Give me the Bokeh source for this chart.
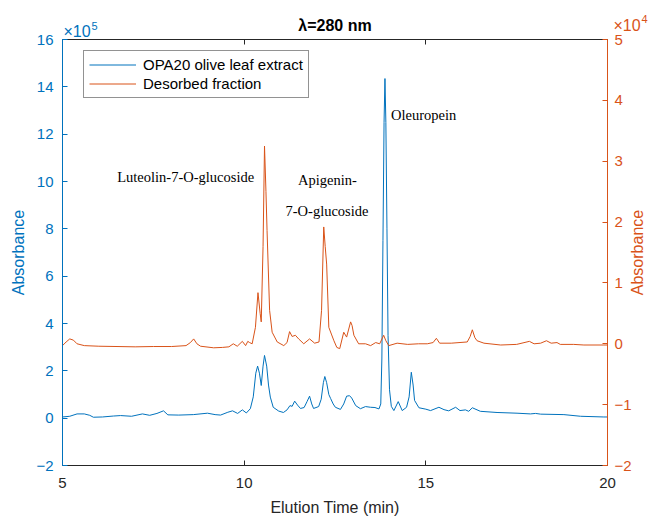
import math
from bokeh.plotting import figure
from bokeh.models import Range1d, LinearAxis, FixedTicker, Label, Legend, LegendItem
from bokeh.embed import file_html
from bokeh.resources import INLINE

# ---- data ----
# OPA20 olive leaf extract, absorbance in units of 1e5
blue_t = [5.0, 5.2, 5.4, 5.6, 5.75, 5.85, 6.1, 6.4, 6.6, 6.9, 7.2, 7.4, 7.6, 7.78, 7.9,
          8.2, 8.6, 8.99, 9.2, 9.35, 9.55, 9.68, 9.82, 9.95, 10.06, 10.17, 10.25, 10.32,
          10.37, 10.42, 10.47, 10.52, 10.56, 10.62, 10.67, 10.72, 10.8, 10.95, 11.08,
          11.18, 11.26, 11.32, 11.39, 11.47, 11.55, 11.65, 11.73, 11.8, 11.86, 11.91,
          12.05, 12.12, 12.18, 12.22, 12.27, 12.33, 12.38, 12.45, 12.51, 12.65, 12.74,
          12.82, 12.9, 12.96, 13.07, 13.2, 13.34, 13.48, 13.6, 13.71, 13.76, 13.79,
          13.82, 13.85, 13.875, 13.9, 13.93, 13.96, 14.0, 14.05, 14.12, 14.24, 14.35,
          14.47, 14.54, 14.6, 14.65, 14.69, 14.81, 15.0, 15.13, 15.36, 15.5, 15.63,
          15.82, 15.94, 16.09, 16.18, 16.28, 16.5, 16.96, 17.51, 17.88, 18.02, 18.16,
          18.8, 19.26, 19.9, 20.0]
blue_v = [0.05, 0.08, 0.18, 0.18, 0.12, 0.04, 0.05, 0.09, 0.11, 0.08, 0.18, 0.12, 0.2, 0.31, 0.14,
          0.13, 0.15, 0.21, 0.15, 0.13, 0.25, 0.31, 0.2, 0.35, 0.22, 0.4, 0.9, 1.9,
          2.2, 1.9, 1.38, 2.2, 2.65, 2.2, 1.4, 0.89, 0.46, 0.3, 0.24,
          0.35, 0.53, 0.5, 0.72, 0.55, 0.41, 0.45, 0.7, 0.93, 0.6, 0.41,
          0.49, 0.8, 1.5, 1.76, 1.5, 1.0, 0.83, 0.6, 0.46, 0.37, 0.6,
          0.93, 0.95, 0.85, 0.53, 0.4, 0.49, 0.46, 0.45, 0.39, 0.6, 2.5,
          7.5, 12.5, 14.35, 12.5, 8.0, 3.5, 1.2, 0.5, 0.32, 0.7, 0.32,
          0.46, 0.9, 1.94, 1.4, 0.75, 0.44, 0.38, 0.32, 0.46, 0.36, 0.31,
          0.46, 0.32, 0.35, 0.29, 0.44, 0.29, 0.24, 0.21, 0.18, 0.2, 0.17,
          0.15, 0.08, 0.05, 0.05]

# Desorbed fraction, absorbance in units of 1e4
orange_t = [5.0, 5.1, 5.2, 5.3, 5.4, 5.6, 6.0, 6.5, 7.0, 7.5, 8.0, 8.4, 8.52, 8.61, 8.7,
            8.8, 9.16, 9.4, 9.58, 9.7, 9.81, 9.95, 10.04, 10.1, 10.15, 10.22, 10.31,
            10.38, 10.44, 10.47, 10.52, 10.56, 10.6, 10.63, 10.7, 10.77, 10.91, 11.09,
            11.18, 11.25, 11.32, 11.41, 11.5, 11.64, 11.8, 11.94, 12.06, 12.13, 12.19,
            12.23, 12.27, 12.33, 12.4, 12.47, 12.55, 12.63, 12.74, 12.82, 12.93, 12.97,
            13.02, 13.15, 13.34, 13.48, 13.62, 13.73, 13.84, 13.9, 13.98, 14.21, 14.5,
            14.8, 15.04, 15.2, 15.29, 15.38, 15.7, 16.14, 16.22, 16.28, 16.35, 16.41,
            16.6, 17.06, 17.5, 17.85, 17.98, 18.16, 18.32, 18.45, 18.61, 18.7, 19.07,
            19.35, 19.9, 20.0]
orange_v = [-0.03, 0.03, 0.08, 0.06, 0.0, -0.03, -0.04, -0.045, -0.05, -0.045, -0.045, -0.03, 0.02, 0.08, 0.0,
            -0.04, -0.066, -0.06, -0.05, 0.0, -0.04, 0.04, -0.03, 0.04, 0.02, 0.0, 0.27,
            0.84, 0.5, 0.36, 1.6, 3.25, 2.5, 1.86, 0.55, 0.19, 0.03, -0.03,
            0.02, 0.2, 0.12, 0.14, 0.08, 0.0, 0.08, 0.01, 0.03, 0.55, 1.92,
            1.6, 1.31, 0.27, 0.16, 0.05, -0.06, -0.08, 0.19, 0.11, 0.36, 0.3,
            0.14, 0.0, 0.0, -0.03, 0.02, 0.0, 0.14, 0.05, -0.03, 0.01, -0.01,
            0.0, 0.0, 0.02, 0.09, 0.01, 0.01, 0.03, 0.12, 0.23, 0.1, 0.05,
            0.01, -0.02, -0.01, 0.04, 0.0, 0.01, 0.05, 0.01, 0.02, -0.01, -0.01,
            -0.02, -0.02, -0.02]

left_ticks = [-2, 0, 2, 4, 6, 8, 10, 12, 14, 16]
right_ticks = [-2, -1, 0, 1, 2, 3, 4, 5]
x_ticks = [5, 10, 15, 20]

ann_text = ["Luteolin-7-O-glucoside", "Apigenin-", "7-O-glucoside", "Oleuropein"]
ann_x = [8.39, 12.29, 12.28, 14.94]
ann_y = [10.17, 10.08, 8.74, 12.79]

title_text = "\u03bb=280 nm"
x_label = "Elution Time (min)"
y_label = "Absorbance"
left_exp = "5"
right_exp = "4"

BLUE = "#0072BD"
ORANGE = "#D95319"
DARK = "#262626"
FONT = "Liberation Sans"

# ---- layout: the frame fills the whole canvas; the axes box sits inside it ----
W, H = 648, 516
BOX_L, BOX_R, BOX_T, BOX_B = 62, 607, 39, 465
X0, X1 = x_ticks[0], x_ticks[-1]
L0, L1 = left_ticks[0], left_ticks[-1]
R0, R1 = right_ticks[0], right_ticks[-1]
sx = (BOX_R - BOX_L) / (X1 - X0)
sl = (BOX_B - BOX_T) / (L1 - L0)
sr = (BOX_B - BOX_T) / (R1 - R0)

p = figure(width=W, height=H, output_backend="svg", toolbar_location=None, title=None,
           x_range=Range1d(X0 - BOX_L / sx, X1 + (W - BOX_R) / sx),
           y_range=Range1d(L0 - (H - BOX_B) / sl, L1 + BOX_T / sl),
           min_border=0)
p.extra_y_ranges = {"right": Range1d(R0 - (H - BOX_B) / sr, R1 + BOX_T / sr)}
p.background_fill_color = "white"
p.border_fill_color = "white"
p.grid.visible = False
p.outline_line_color = None

r1 = p.line(blue_t, blue_v, line_color=BLUE, line_width=1)
r2 = p.line(orange_t, orange_v, line_color=ORANGE, line_width=1, y_range_name="right")

def style(ax, color, ticks):
    ax.ticker = FixedTicker(ticks=ticks)
    ax.axis_line_color = color
    ax.major_tick_line_color = color
    ax.major_label_text_color = color
    ax.minor_tick_line_color = None
    ax.major_tick_in = 5
    ax.major_tick_out = 0
    ax.major_label_text_font = FONT
    ax.major_label_text_font_size = "15px"

yl = p.yaxis[0]
style(yl, BLUE, left_ticks)
yl.bounds = (L0, L1)
yl.fixed_location = X0
yl.major_label_standoff = 9

yr = LinearAxis(y_range_name="right")
style(yr, ORANGE, right_ticks)
yr.bounds = (R0, R1)
yr.fixed_location = X1
yr.major_label_standoff = 7
p.add_layout(yr, "right")

xb = p.xaxis[0]
style(xb, DARK, x_ticks)
xb.bounds = (X0, X1)
xb.fixed_location = L0
xb.major_label_standoff = 12

xt = LinearAxis()
style(xt, DARK, x_ticks)
xt.bounds = (X0, X1)
xt.fixed_location = L1
xt.major_label_overrides = {t: "" for t in x_ticks}
p.add_layout(xt, "above")

# axis titles
p.add_layout(Label(x=X0, y=(L0 + L1) / 2, text=y_label, text_color=BLUE, text_font=FONT,
                   text_font_size="16px", angle=math.pi / 2, text_align="center",
                   text_baseline="middle", x_offset=-44))
p.add_layout(Label(x=X1, y=(R0 + R1) / 2, y_range_name="right", text=y_label, text_color=ORANGE,
                   text_font=FONT, text_font_size="16px", angle=math.pi / 2, text_align="center",
                   text_baseline="middle", x_offset=30))
p.add_layout(Label(x=(X0 + X1) / 2, y=L0, text=x_label, text_color=DARK, text_font=FONT,
                   text_font_size="16px", text_align="center", text_baseline="middle",
                   y_offset=-42))

# title and exponent notes
p.add_layout(Label(x=(X0 + X1) / 2, y=L1, text=title_text, text_font=FONT,
                   text_font_size="16px", text_font_style="bold", text_color="black",
                   text_align="center", text_baseline="alphabetic", y_offset=14))
p.add_layout(Label(x=X0, y=L1, text="\u00d710", text_color=BLUE, text_font=FONT,
                   text_font_size="16px", x_offset=1, y_offset=8, text_baseline="alphabetic",
                   text_align="left"))
p.add_layout(Label(x=X0, y=L1, text=left_exp, text_color=BLUE, text_font=FONT,
                   text_font_size="11px", x_offset=29, y_offset=14, text_baseline="alphabetic",
                   text_align="left"))
p.add_layout(Label(x=X1, y=R1, y_range_name="right", text="\u00d710", text_color=ORANGE,
                   text_font=FONT, text_font_size="16px", x_offset=6, y_offset=14,
                   text_baseline="alphabetic", text_align="left"))
p.add_layout(Label(x=X1, y=R1, y_range_name="right", text=right_exp, text_color=ORANGE,
                   text_font=FONT, text_font_size="11px", x_offset=34, y_offset=21,
                   text_baseline="alphabetic", text_align="left"))

for t, xx, yy in zip(ann_text, ann_x, ann_y):
    p.add_layout(Label(x=xx, y=yy, text=t, text_font="Liberation Serif", text_font_size="14.5px",
                       text_align="center", text_baseline="middle", text_color="black"))

legend = Legend(items=[LegendItem(label="OPA20 olive leaf extract", renderers=[r1]),
                       LegendItem(label="Desorbed fraction", renderers=[r2])],
                location=(83, 418))
legend.border_line_color = DARK
legend.border_line_width = 1
legend.background_fill_color = "white"
legend.background_fill_alpha = 1
legend.label_text_font = FONT
legend.label_text_font_size = "15px"
legend.label_text_color = "black"
legend.glyph_width = 47
legend.glyph_height = 15
legend.label_height = 15
legend.label_standoff = 7
legend.spacing = 2
legend.padding = 5
legend.margin = 0
p.add_layout(legend)

open("out.html", "w").write(file_html(p, INLINE))
